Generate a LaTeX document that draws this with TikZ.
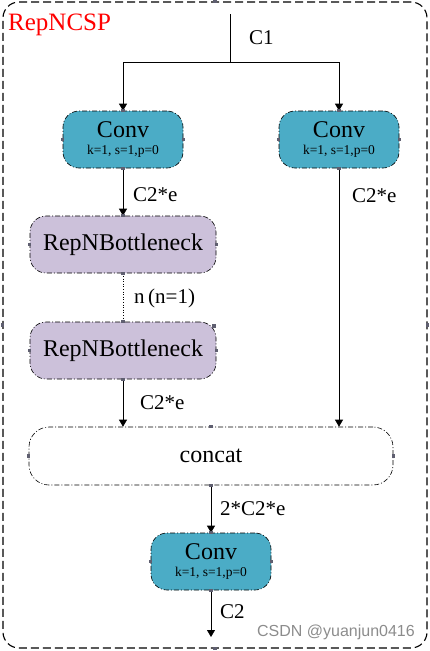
\documentclass[tikz,border=0pt]{standalone}
\usepackage{fontspec}
\setmainfont{Liberation Serif}
\newfontfamily\wmfont{Liberation Sans}
\usetikzlibrary{arrows.meta}
\definecolor{convblue}{HTML}{4BACC6}
\definecolor{bnpurple}{HTML}{CCC1DA}
\definecolor{dotgray}{HTML}{5F5F70}
\begin{document}
\begin{tikzpicture}[x=1pt,y=-1pt,
  box/.style={draw=black, line width=0.6pt, dash pattern=on 5pt off 2pt on 1pt off 2pt,
    rounded corners=16pt, minimum width=120pt, minimum height=57pt, inner sep=0pt, align=center},
  convbox/.style={box, fill=convblue, font=\fontsize{13.5}{13.5}\selectfont},
  bnbox/.style={box, fill=bnpurple, minimum width=186pt, font=\fontsize{24}{24}\selectfont},
  catbox/.style={box, fill=white, minimum width=364pt, minimum height=58pt, rounded corners=20pt, font=\fontsize{24}{24}\selectfont},
  frame/.style={draw=black, line width=1.1pt, dash pattern=on 8pt off 4pt, rounded corners=16pt,
    minimum width=424pt, minimum height=646pt, inner sep=0pt},
  arr/.style={-{Triangle[length=7pt,width=8pt]}, line width=0.8pt},
  lbl/.style={anchor=west, font=\fontsize{21}{21}\selectfont, inner sep=0pt},
  pin/.style={fill=dotgray, minimum size=3.2pt, inner sep=0pt}
]
\useasboundingbox (0,0) rectangle (430,651);
\node[frame] (frame) at (215,325) {};
\node[anchor=west, text=red, font=\fontsize{25}{25}\selectfont, inner sep=0pt] (title) at (8,25) {RepNCSP};

\node[convbox] (conv1) at (123,139.5) {{\fontsize{24}{24}\selectfont Conv}\\[3.5pt]k=1, s=1,p=0};
\node[convbox] (conv2) at (339,139.5) {{\fontsize{24}{24}\selectfont Conv}\\[3.5pt]k=1, s=1,p=0};
\node[bnbox] (bn1) at (123,244.5) {RepNBottleneck};
\node[bnbox] (bn2) at (123,350.5) {RepNBottleneck};
\node[catbox] (concat) at (211,456) {concat};
\node[convbox] (conv3) at (211,561.5) {{\fontsize{24}{24}\selectfont Conv}\\[3.5pt]k=1, s=1,p=0};

\coordinate (in) at (230,14);
\coordinate (split) at (230,62);
\coordinate (out) at (211,637);

\draw[line width=0.8pt] (in) -- (split);
\draw[arr] (split) -| (conv1.north);
\draw[arr] (split) -| (conv2.north);
\draw[arr] (conv1.south) -- (bn1.north);
\draw[dotted, line width=0.6pt] (bn1.south) -- (bn2.north);
\draw[arr] (bn2.south) -- (bn2.south |- concat.north);
\draw[arr] (conv2.south) -- (conv2.south |- concat.north);
\draw[arr] (concat.south) -- (conv3.north);
\draw[arr] (conv3.south) -- (out);

\node[lbl] (l1) at (249,38) {C1};
\node[lbl] (l2) at (133,195) {C2*e};
\node[lbl] (l3) at (352,196) {C2*e};
\node[lbl] (l4) at (134,298) {n\,(n=1)};
\node[lbl] (l5) at (140,403) {C2*e};
\node[lbl] (l6) at (220,509) {2*C2*e};
\node[lbl] (l7) at (220,612) {C2};

\foreach \b in {conv1,conv2,bn1,bn2,concat,conv3,frame}{
  \foreach \a in {north,south,east,west}{
    \node[pin] (pin-\b-\a) at (\b.\a) {};
  }
}
\node[pin] (pin-bn2-extra) at (214,326) {};

\node[anchor=east, text=black!45, font=\wmfont\fontsize{16}{16}\selectfont, inner sep=0pt] (wm) at (415,632) {CSDN @yuanjun0416};
\end{tikzpicture}
\end{document}
